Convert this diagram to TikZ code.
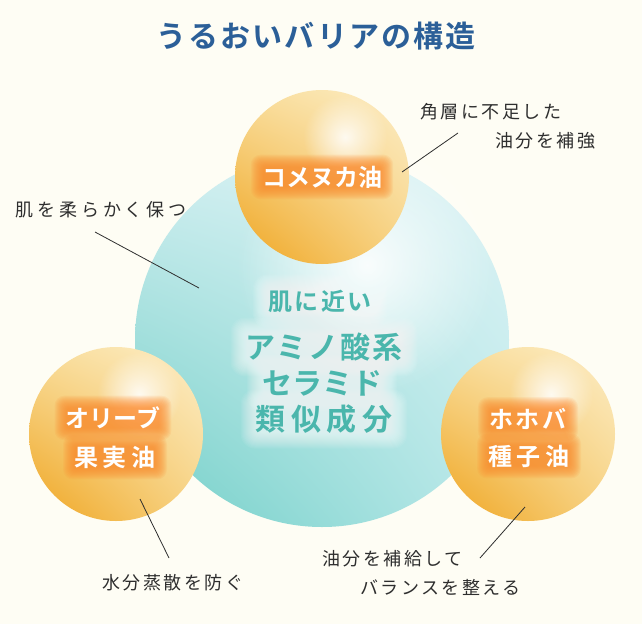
\documentclass[tikz,border=0pt]{standalone}
\usepackage{fontspec}
\setmainfont{Noto Sans CJK JP}
\newfontfamily\jpfont{Noto Sans CJK JP}
\newfontfamily\jpbold{Noto Sans CJK JP Bold}
\usetikzlibrary{positioning,fadings,shadings}
\definecolor{bgcream}{HTML}{FEFDF4}
\definecolor{titleblue}{HTML}{2B5F98}
\definecolor{coretext}{HTML}{4AB6AC}
\definecolor{notetext}{HTML}{2E2E2E}
\definecolor{gloworange}{HTML}{FF8A2C}
\definecolor{barUL}{HTML}{D2EFF1}
\definecolor{barUR}{HTML}{DDF3F5}
\definecolor{barLL}{HTML}{6FCEC6}
\definecolor{barLR}{HTML}{BCE9EA}
\definecolor{oilUL}{HTML}{F9DD9A}
\definecolor{oilUR}{HTML}{FCEDC6}
\definecolor{oilLL}{HTML}{EFA41F}
\definecolor{oilLR}{HTML}{F7D384}
\pgfdeclarelayer{glow}
\pgfdeclarelayer{front}
\pgfsetlayers{main,glow,front}
\tikzfading[name=softfade, inner color=transparent!0, outer color=transparent!100]
\tikzset{%
	barrier/.style={circle, inner sep=0pt, minimum size=374pt, shade, upper left=barUL, upper right=barUR, lower left=barLL, lower right=barLR},
	oil/.style={circle, inner sep=0pt, minimum size=174pt, shade, upper left=oilUL, upper right=oilUR, lower left=oilLL, lower right=oilLR},
	shine/.style={fill=white, path fading=softfade},
	bubble/.style={text=white, inner sep=1pt, font=\jpbold\fontsize{24}{28}\selectfont},
	core/.style={text=coretext, inner sep=1pt, font=\jpbold\fontsize{30}{34}\selectfont},
	note/.style={text=notetext, anchor=west, inner sep=0pt, font=\jpfont\fontsize{18}{22}\selectfont\addfontfeatures{LetterSpace=14}},
	lead/.style={draw=notetext, line width=0.8pt},
	glowor/.style={fill=gloworange, opacity=0.1},
	glowwh/.style={fill=white, opacity=0.06}
}

\begin{document}
\begin{tikzpicture}[x=1pt,y=-1pt]
	\useasboundingbox[fill=bgcream] (0,0) rectangle (642,624);
	
	\node[font=\jpbold\fontsize{30}{34}\selectfont\addfontfeatures{LetterSpace=7}, text=titleblue] (title) at (316,36) {うるおいバリアの構造};
	
	% spheres
	\node[barrier] (skin) at (322,340) {};
	\fill[shine, opacity=0.9] ([shift={(45,-75)}]skin.center) circle (130);
	\node[oil] (rice) at (322,177) {};
	\node[oil] (olive) at (116,434) {};
	\node[oil] (jojoba) at (528,434) {};
	\foreach \s in {rice, olive, jojoba}
		\fill[shine, opacity=0.85] ([shift={(23,-40)}]\s.center) circle (42);
	
	% leaders
	\coordinate (softA) at (95,232);   \coordinate (softB) at (199,288);
	\coordinate (hornA) at (458,133);  \coordinate (hornB) at (402,172);
	\coordinate (waterA) at (169,558); \coordinate (waterB) at (140,499);
	\coordinate (balA) at (480,558);   \coordinate (balB) at (525,507);
	\draw[lead] (softA) -- (softB);
	\draw[lead] (hornA) -- (hornB);
	\draw[lead] (waterA) -- (waterB);
	\draw[lead] (balA) -- (balB);
	
	\begin{pgfonlayer}{front}
		\node[bubble] (ricet) at (rice) {コメヌカ油};
		\node[bubble] (olivet) at (113,418) {オリーブ};
		\node[bubble, font=\jpbold\fontsize{24}{28}\selectfont\addfontfeatures{LetterSpace=20}] (olivem) at (115,457) {果実油};
		\node[bubble, font=\jpbold\fontsize{24}{28}\selectfont\addfontfeatures{LetterSpace=12}] (jojot) at (528,419) {ホホバ};
		\node[bubble, font=\jpbold\fontsize{24}{28}\selectfont\addfontfeatures{LetterSpace=20}] (jojom) at (529,456) {種子油};
		
		\node[core, font=\jpbold\fontsize{24}{28}\selectfont\addfontfeatures{LetterSpace=11}] (cnear) at (320,301) {肌に近い};
		\node[core, font=\jpbold\fontsize{30}{34}\selectfont\addfontfeatures{LetterSpace=6}] (camino) at (324,347) {アミノ酸系};
		\node[core] (cceram) at (322,383) {セラミド};
		\node[core, font=\jpbold\fontsize{30}{34}\selectfont\addfontfeatures{LetterSpace=18}] (csimil) at (324,419) {類似成分};
		
		\node[note, font=\jpfont\fontsize{18}{22}\selectfont\addfontfeatures{LetterSpace=22}] (softn) at (15,210) {肌を柔らかく保つ};
		\node[note] (hornn) at (420,112) {角層に不足した};
		\node[note] (hornm) at (495,141) {油分を補強};
		\node[note] (baln) at (322,559) {油分を補給して};
		\node[note] (balm) at (360,587) {バランスを整える};
		\node[note] (watern) at (102,583) {水分蒸散を防ぐ};
	\end{pgfonlayer}
	
	\begin{pgfonlayer}{glow}
		\foreach \t in {ricet, olivet, olivem, jojot, jojom}
			\foreach \g in {-2,...,10}
				\fill[glowor, rounded corners=4pt+0.6*\g pt] ([shift={(-\g,\g)}]\t.south west) rectangle ([shift={(\g,-\g)}]\t.north east);
		\foreach \t in {cnear, camino, cceram, csimil}
			\foreach \g in {-2,...,14}
				\fill[glowwh, rounded corners=6pt+0.6*\g pt] ([shift={(-\g,\g)}]\t.south west) rectangle ([shift={(\g,-\g)}]\t.north east);
	\end{pgfonlayer}
\end{tikzpicture}
\end{document}
